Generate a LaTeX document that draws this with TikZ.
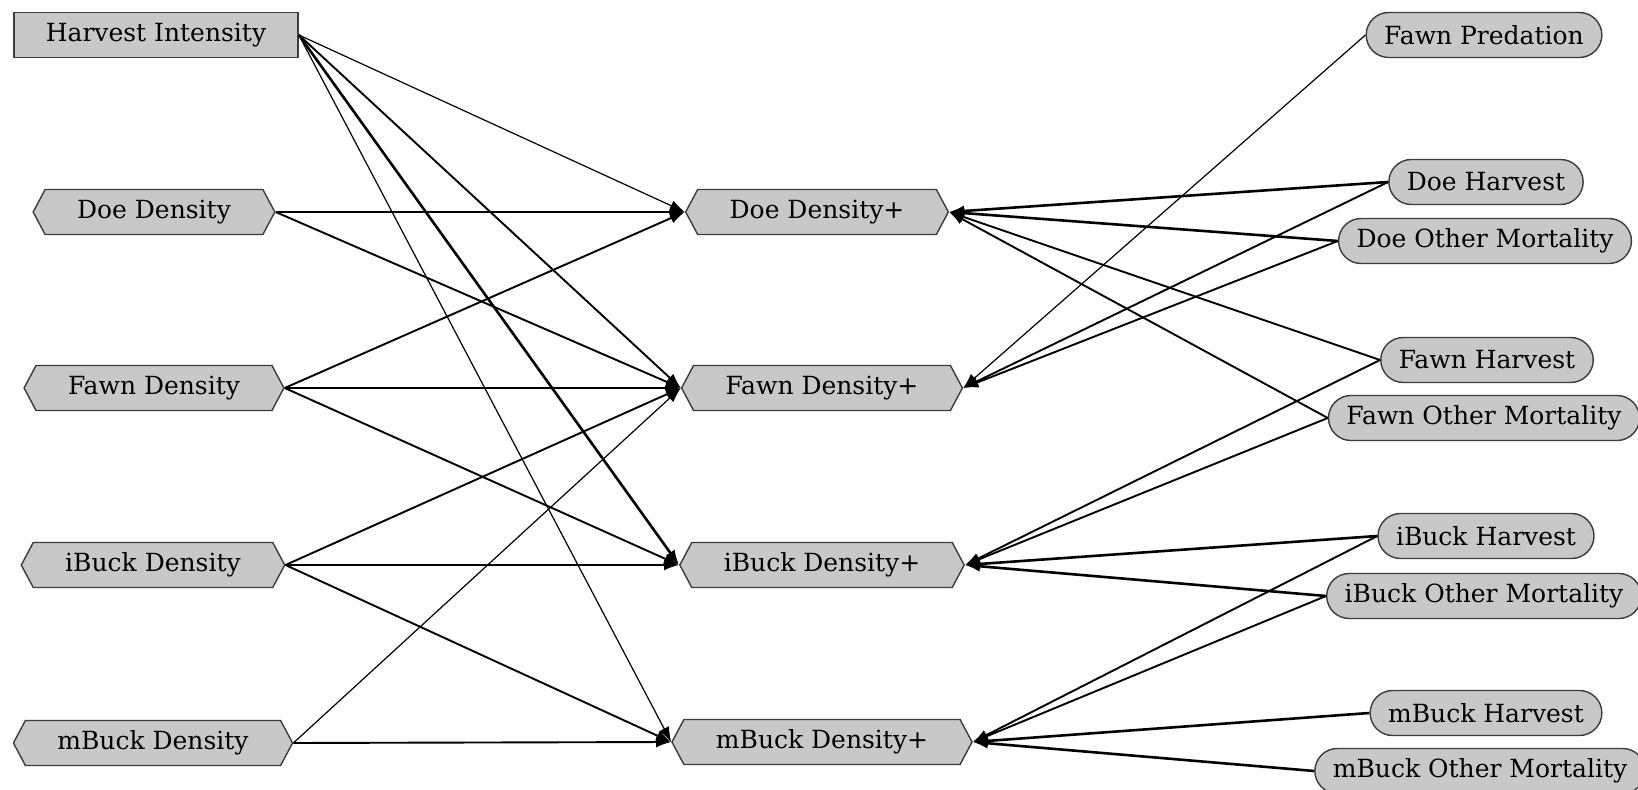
\documentclass[tikz,border=0pt]{standalone}
\usepackage{fontspec}
\setmainfont{DejaVu Serif}
\usetikzlibrary{shapes,arrows.meta}
\definecolor{boxgray}{RGB}{200,200,200}
\definecolor{rimgray}{RGB}{60,60,60}

\begin{document}
\begin{tikzpicture}[x=0.5pt,y=-0.5pt,every node/.style={draw=rimgray, fill=boxgray, line width=0.7pt, font=\fontsize{12.5}{15}\selectfont, minimum height=22.5pt, inner ysep=0pt},hexnode/.style={shape=signal, signal to=west and east, signal pointer angle=124, inner xsep=16pt},boxnode/.style={shape=rectangle, inner xsep=16pt},ovalnode/.style={shape=rectangle, rounded corners=11.25pt, inner xsep=9pt},arr/.style={-{Latex[length=7.5pt,width=5.5pt]}, line width=0.95pt},thinarr/.style={arr, line width=0.6pt},thickarr/.style={arr, line width=1.3pt}]
\useasboundingbox (0,0) rectangle (1638,790);
% left column
\node[boxnode] (hi) at (156,35) {Harvest Intensity};
\node[hexnode] (doe) at (154,212) {Doe Density};
\node[hexnode] (fawn) at (154,388) {Fawn Density};
\node[hexnode] (ibuck) at (153,565) {iBuck Density};
\node[hexnode] (mbuck) at (153,743) {mBuck Density};
% middle column
\node[hexnode] (doep) at (817,212) {Doe Density+};
\node[hexnode] (fawnp) at (822,388) {Fawn Density+};
\node[hexnode] (ibuckp) at (822,565) {iBuck Density+};
\node[hexnode] (mbuckp) at (822,742) {mBuck Density+};
% right column
\node[ovalnode] (fpred) at (1484,35) {Fawn Predation};
\node[ovalnode] (dharv) at (1486,182) {Doe Harvest};
\node[ovalnode] (dother) at (1485,241) {Doe Other Mortality};
\node[ovalnode] (fharv) at (1487,360) {Fawn Harvest};
\node[ovalnode] (fother) at (1484,418) {Fawn Other Mortality};
\node[ovalnode] (iharv) at (1486,536) {iBuck Harvest};
\node[ovalnode] (iother) at (1484,596) {iBuck Other Mortality};
\node[ovalnode] (mharv) at (1486,713) {mBuck Harvest};
\node[ovalnode] (mother) at (1480,771) {mBuck Other Mortality};
% from the left
\draw[thinarr] (hi.east) -- (doep.west);
\draw[arr] (hi.east) -- (fawnp.west);
\draw[thickarr] (hi.east) -- (ibuckp.west);
\draw[thinarr] (hi.east) -- (mbuckp.west);
\draw[arr] (doe.east) -- (doep.west);
\draw[arr] (doe.east) -- (fawnp.west);
\draw[arr] (fawn.east) -- (doep.west);
\draw[arr] (fawn.east) -- (fawnp.west);
\draw[arr] (fawn.east) -- (ibuckp.west);
\draw[arr] (ibuck.east) -- (fawnp.west);
\draw[arr] (ibuck.east) -- (ibuckp.west);
\draw[arr] (ibuck.east) -- (mbuckp.west);
\draw[thinarr] (mbuck.east) -- (fawnp.west);
\draw[arr] (mbuck.east) -- (mbuckp.west);
% from the right
\draw[thinarr] (fpred.west) -- (fawnp.east);
\draw[thickarr] (dharv.west) -- (doep.east);
\draw[arr] (dharv.west) -- (fawnp.east);
\draw[thickarr] (dother.west) -- (doep.east);
\draw[arr] (dother.west) -- (fawnp.east);
\draw[arr] (fharv.west) -- (doep.east);
\draw[arr] (fharv.west) -- (ibuckp.east);
\draw[arr] (fother.west) -- (doep.east);
\draw[arr] (fother.west) -- (ibuckp.east);
\draw[thickarr] (iharv.west) -- (ibuckp.east);
\draw[arr] (iharv.west) -- (mbuckp.east);
\draw[thickarr] (iother.west) -- (ibuckp.east);
\draw[arr] (iother.west) -- (mbuckp.east);
\draw[thickarr] (mharv.west) -- (mbuckp.east);
\draw[thickarr] (mother.west) -- (mbuckp.east);
\end{tikzpicture}
\end{document}
